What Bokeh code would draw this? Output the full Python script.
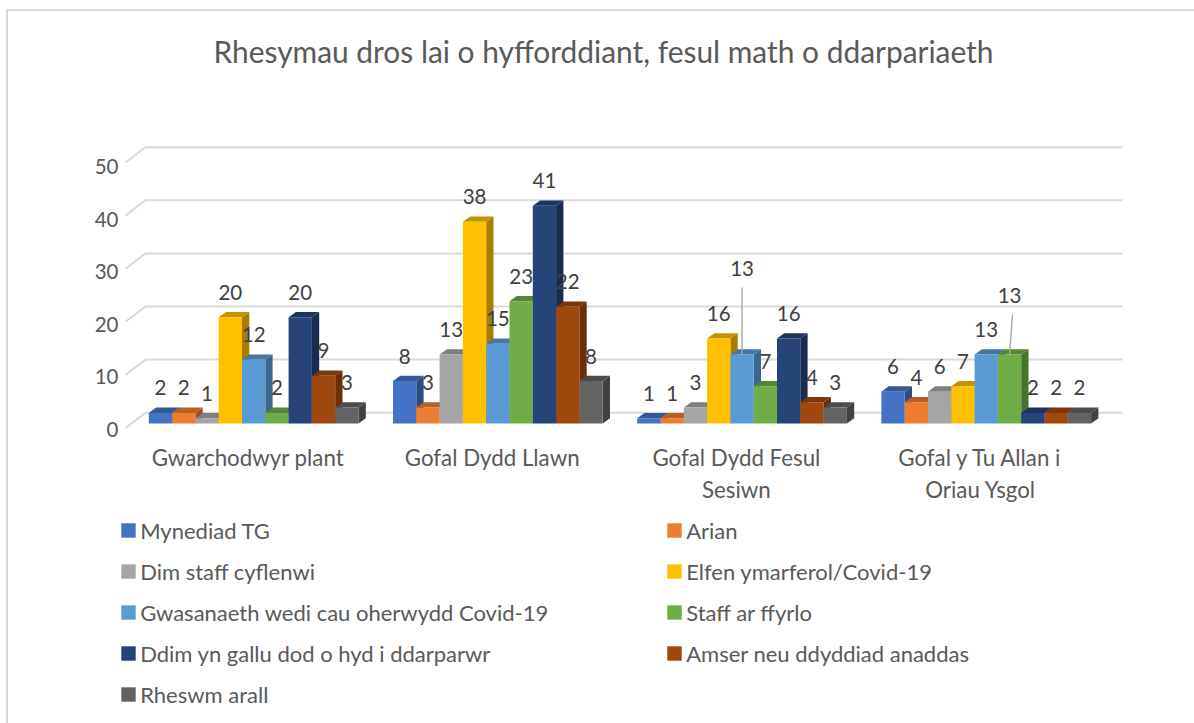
from bokeh.embed import file_html
from bokeh.resources import INLINE
from bokeh.plotting import figure
from bokeh.layouts import column
from bokeh.models import Range1d, LinearAxis, FixedTicker, Legend, LegendItem
from bokeh.core.properties import value

# ---------- data ----------
categories = ["Gwarchodwyr plant", "Gofal Dydd Llawn", "Gofal Dydd Fesul\nSesiwn", "Gofal y Tu Allan i\nOriau Ysgol"]
series_names = ["Mynediad TG", "Arian", "Dim staff cyflenwi", "Elfen ymarferol/Covid-19",
                "Gwasanaeth wedi cau oherwydd Covid-19", "Staff ar ffyrlo",
                "Ddim yn gallu dod o hyd i ddarparwr", "Amser neu ddyddiad anaddas", "Rheswm arall"]
mynediad_tg = [2, 8, 1, 6]
arian = [2, 3, 1, 4]
dim_staff = [1, 13, 3, 6]
elfen_ymarferol = [20, 38, 16, 7]
gwasanaeth_cau = [12, 15, 13, 13]
staff_ffyrlo = [2, 23, 7, 13]
ddim_gallu = [20, 41, 16, 2]
amser = [9, 22, 4, 2]
rheswm_arall = [3, 8, 3, 2]
y_ticks = [0, 10, 20, 30, 40, 50]
all_series = [mynediad_tg, arian, dim_staff, elfen_ymarferol, gwasanaeth_cau,
              staff_ffyrlo, ddim_gallu, amser, rheswm_arall]
colors = ["#4472C4", "#ED7D31", "#A5A5A5", "#FFC000", "#5B9BD5", "#70AD47", "#264478", "#9E480E", "#636363"]

# ---------- layout (picture pixels) ----------
FONT = "Lato"
TXT = "#595959"
OX, OY = 8, 11                   # where the canvases start
FIG_W = 1186
SPLIT = 510                      # chart / legend boundary
H1, H2 = SPLIT - OY, 723 - SPLIT
FRAME_L, FRAME_R = 118, 1190
FRAME_T, FRAME_B = 85, 440
PX_U = 5.31
BASE_Y = 423.0
LABEL_Y0, LABEL_PX_U = 429.0, 5.26
X0 = 148.3
GROUP = 244.2
BAR = 23.3 / GROUP
DX = 7.3 / GROUP
DY = 5.3 / PX_U


def shade(c, f):
    r, g, b = int(c[1:3], 16), int(c[3:5], 16), int(c[5:7], 16)
    return "#%02x%02x%02x" % (int(r * f), int(g * f), int(b * f))


p = figure(width=FIG_W, height=H1, output_backend="svg", toolbar_location=None,
           x_range=Range1d((FRAME_L - X0) / GROUP, (FRAME_R - X0) / GROUP),
           y_range=Range1d((BASE_Y - FRAME_B) / PX_U, (BASE_Y - FRAME_T) / PX_U),
           x_axis_location=None, y_axis_location=None,
           min_border_left=FRAME_L - OX, min_border_right=OX + FIG_W - FRAME_R,
           min_border_top=FRAME_T - OY, min_border_bottom=SPLIT - FRAME_B)
p.outline_line_color = None
p.grid.visible = False

p.title.text = "Rhesymau dros lai o hyfforddiant, fesul math o ddarpariaeth"
p.title.text_font = FONT
p.title.text_font_size = "29.9px"
p.title.text_font_style = "normal"
p.title.text_color = TXT
p.title.align = "left"
p.title.offset = 95
p.title.standoff = 34

# axes
p.extra_y_ranges["labels"] = Range1d((LABEL_Y0 - FRAME_B) / LABEL_PX_U, (LABEL_Y0 - FRAME_T) / LABEL_PX_U)
yaxis = LinearAxis(y_range_name="labels", ticker=FixedTicker(ticks=y_ticks))
yaxis.axis_line_color = None
yaxis.major_tick_line_color = None
yaxis.minor_tick_line_color = None
yaxis.major_tick_out = 0
yaxis.major_tick_in = 0
yaxis.major_label_text_font = FONT
yaxis.major_label_text_font_size = "20.5px"
yaxis.major_label_text_color = TXT
yaxis.major_label_standoff = 0
p.add_layout(yaxis, "left")

label_centres = [(247.5 - X0) / GROUP + i for i in range(4)]
xaxis = LinearAxis(ticker=FixedTicker(ticks=label_centres),
                   major_label_overrides=dict(zip(label_centres, categories)))
xaxis.axis_line_color = None
xaxis.major_tick_line_color = None
xaxis.minor_tick_line_color = None
xaxis.major_tick_out = 0
xaxis.major_tick_in = 0
xaxis.major_label_text_font = FONT
xaxis.major_label_text_font_size = "22.3px"
xaxis.major_label_text_color = TXT
xaxis.major_label_standoff = 3
p.add_layout(xaxis, "below")

# back wall + side wall gridlines
wall_left = (145 - X0) / GROUP
wall_right = (1122 - X0) / GROUP
side_left = (125 - X0) / GROUP
WALL_UP = 10.8 / PX_U
SIDE_DOWN = 4.5 / PX_U
xs, ys = [], []
for t in y_ticks:
    xs.append([side_left, wall_left, wall_right])
    ys.append([t - SIDE_DOWN, t + WALL_UP, t + WALL_UP])
p.multi_line(xs, ys, line_color="#d9d9d9", line_width=2)

# bars
for s, vals in enumerate(all_series):
    c = colors[s]
    lefts = [g + s * BAR for g in range(4)]
    rights = [l + BAR for l in lefts]
    p.patches([[r, r + DX, r + DX, r] for r in rights],
              [[0, DY, v + DY, v] for v in vals],
              fill_color=shade(c, 0.66), line_color=None)
    p.patches([[l, l + DX, r + DX, r] for l, r in zip(lefts, rights)],
              [[v, v + DY, v + DY, v] for v in vals],
              fill_color=shade(c, 0.77), line_color=None)
    p.quad(left=lefts, right=rights, bottom=[0] * 4, top=vals, fill_color=c, line_color=None)

# data labels, with the two pulled-out ones and their leader lines
label_x, label_y, label_txt, label_off = [], [], [], []
PULLED = {(2, 4): -86, (3, 5): -59}
for s, vals in enumerate(all_series):
    for g, v in enumerate(vals):
        label_x.append(g + (s + 0.5) * BAR)
        label_y.append(v)
        label_txt.append(str(v))
        label_off.append(PULLED.get((g, s), -25))
p.text(label_x, label_y, text=label_txt, y_offset=label_off, text_align="center",
       text_baseline="middle", text_font=value(FONT), text_font_size="20.5px", text_color="#404040")
for (g, s), off in PULLED.items():
    cx = g + (s + 0.5) * BAR
    v = all_series[s][g]
    lift = (-off - 19) / PX_U
    p.segment([cx + (0.012 if s == 5 else 0)], [v + lift], [cx], [v], line_color="#a6a6a6", line_width=1.4)

# legend panel
q = figure(width=FIG_W, height=H2, output_backend="svg", toolbar_location=None,
           x_range=Range1d(0, 1), y_range=Range1d(0, 1),
           x_axis_location=None, y_axis_location=None,
           min_border_left=FRAME_L - OX, min_border_right=OX + FIG_W - FRAME_R,
           min_border_top=0, min_border_bottom=0)
q.outline_line_color = None
q.grid.visible = False
items = []
for s, c in enumerate(colors):
    r = q.quad(left=[-2], right=[-1], bottom=[-2], top=[-1], fill_color=c, line_color=None)
    items.append(LegendItem(label=series_names[s], renderers=[r]))


def make_legend(its, x):
    n = len(its)
    leg = Legend(items=its, orientation="vertical",
                 location=(x - 1.8 - FRAME_L, H2 - 6.5 - (27 * n + 14 * (n - 1))),
                 background_fill_alpha=0, border_line_color=None,
                 glyph_width=18, glyph_height=18, label_height=20, spacing=14, padding=0, margin=0,
                 label_standoff=3, label_text_font=FONT, label_text_font_size="22px",
                 label_text_color=TXT)
    q.add_layout(leg, "center")


make_legend(items[0::2], 121)
make_legend(items[1::2], 667)

layout = column(p, q, spacing=0,
                styles={"border-left": "2px solid #d9d9d9", "border-top": "2px solid #d9d9d9",
                        "margin-left": "6px", "margin-top": "9px"})
open("out.html", "w").write(file_html(layout, INLINE))
